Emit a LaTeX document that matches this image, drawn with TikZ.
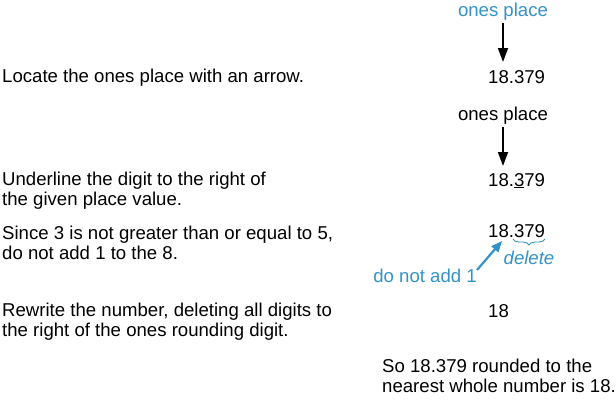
\documentclass[tikz,border=0pt]{standalone}
\usepackage{fontspec}
\setmainfont{Liberation Sans}
\usetikzlibrary{arrows.meta,decorations.pathreplacing}
\definecolor{oblue}{RGB}{52,146,198}
\begin{document}
\begin{tikzpicture}[x=1pt,y=-1pt,
  txt/.style={inner sep=0pt,font=\fontsize{18.6}{20}\selectfont},
  lefttxt/.style={txt,anchor=base west,align=left},
  darrow/.style={line width=1.8pt,-{Triangle[length=14pt,width=10pt]}},
  barrow/.style={oblue,line width=2.2pt,-{Triangle[length=11pt,width=9pt]}}]
\useasboundingbox (0,0) rectangle (616,400);
% row 1
\node[txt,oblue,anchor=base] (op1) at (503,16) {ones place};
\node[txt,anchor=base west] (n1) at (488,83) {18.379};
\coordinate (a1s) at (503,23);
\coordinate (a1e) at (503,62);
\draw[darrow] (a1s) -- (a1e);
\node[lefttxt] (t1) at (2,82) {Locate the ones place with an arrow.};
% row 2
\node[txt,anchor=base] (op2) at (503,120) {ones place};
\coordinate (a2s) at (503,127);
\coordinate (a2e) at (503,166);
\draw[darrow] (a2s) -- (a2e);
\node[txt,anchor=base west] (n2) at (488,186) {18.\underline{3}79};
\node[lefttxt] (t2) at (2,205) {Underline the digit to the right of\\the given place value.};
% row 3
\node[txt,anchor=base west] (n3) at (488,237) {18.379};
\coordinate (b1) at (513,239);
\coordinate (b2) at (545,239);
\draw[oblue,line width=0.9pt,decorate,decoration={brace,mirror,amplitude=6pt}] (b1) -- (b2);
\node[txt,oblue,anchor=base,font=\fontsize{18.6}{20}\selectfont\itshape] (del) at (529,264) {delete};
\node[txt,oblue,anchor=base east] (dna) at (477,282) {do not add 1};
\coordinate (c1) at (477,270);
\coordinate (c2) at (502,241);
\draw[barrow] (c1) -- (c2);
\node[lefttxt] (t3) at (2,259) {Since 3 is not greater than or equal to 5,\\do not add 1 to the 8.};
% row 4
\node[txt,anchor=base west] (n4) at (488,317) {18};
\node[lefttxt] (t4) at (2,336) {Rewrite the number, deleting all digits to\\the right of the ones rounding digit.};
% conclusion
\node[lefttxt] (t5) at (382,392) {So 18.379 rounded to the\\nearest whole number is 18.};
\end{tikzpicture}
\end{document}
